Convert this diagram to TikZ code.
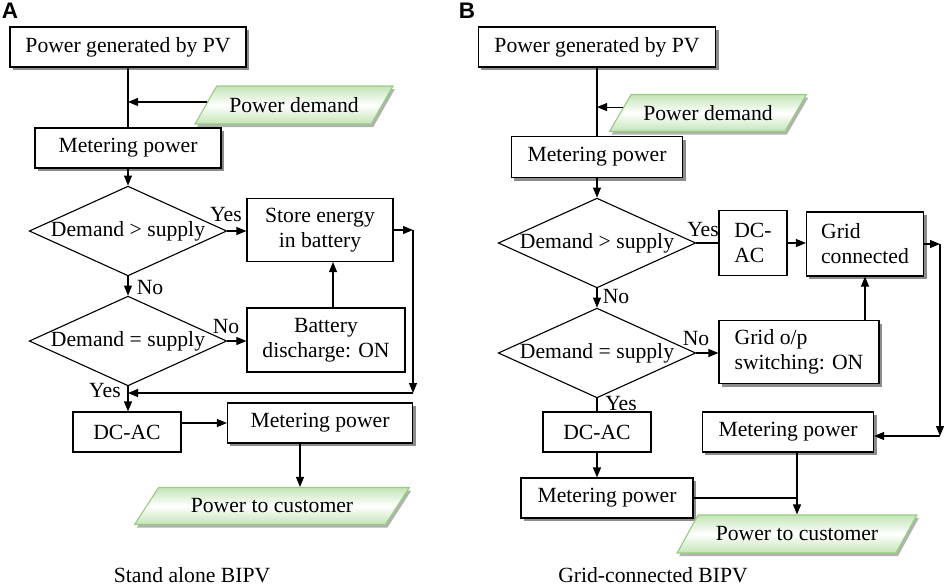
\documentclass[tikz,border=0pt]{standalone}
\usepackage{fontspec}
\setmainfont{Liberation Serif}
\newfontfamily\panelfont{Liberation Sans}
\usetikzlibrary{positioning,arrows.meta,shapes.geometric,shadows}
\definecolor{iogreen}{RGB}{196,228,182}
\definecolor{ioedge}{RGB}{150,205,130}
\newcommand{\flowfont}{\fontsize{15.4}{17.8}\selectfont}

\begin{document}
\begin{tikzpicture}[x=0.025cm, y=-0.025cm, line width=0.8pt,
    box/.style={draw, fill=white, inner sep=0pt, font=\flowfont, align=center},
    sbox/.style={box, drop shadow={shadow xshift=0.075cm, shadow yshift=-0.075cm, fill=black!45, opacity=1}},
    decision/.style={diamond, draw, inner sep=0pt, aspect=2.2,
        minimum width=4.925cm, minimum height=2.225cm, font=\flowfont},
    io/.style={trapezium, trapezium left angle=40, trapezium right angle=140,
        trapezium stretches=true, draw=ioedge, top color=iogreen, bottom color=iogreen,
        middle color=white, inner sep=0pt, font=\flowfont,
        drop shadow={shadow xshift=0.05cm, shadow yshift=-0.075cm, fill=black!30, opacity=1}},
    lbl/.style={inner sep=0pt, font=\flowfont},
    panel/.style={inner sep=0pt, font=\panelfont\bfseries\fontsize{16}{18}\selectfont},
    arr/.style={-{Triangle[length=2.5mm,width=2mm]}},
    ]
    \useasboundingbox (0,0) rectangle (948,587);

    \node[panel] (labA) at (10,11) {A};
    \node[panel] (labB) at (467,11) {B};

    % stand alone
    \node[sbox, minimum width=5.9cm, minimum height=1cm] (pvA) at (128,47) {Power generated by PV};
    \node[io, minimum width=4.95cm, minimum height=0.95cm] (demandA) at (294,105) {Power demand};
    \node[sbox, minimum width=4.65cm, minimum height=1cm] (meterA) at (128,148) {Metering power};
    \node[decision] (decA1) at (128,231) {Demand > supply};
    \node[box, minimum width=3.65cm, minimum height=1.575cm] (storeA) at (320,230) {Store energy\\in battery};
    \node[decision] (decA2) at (128,341) {Demand = supply};
    \node[box, minimum width=3.95cm, minimum height=1.6cm] (battA) at (326,340) {Battery\\discharge: ON};
    \node[box, minimum width=2.7cm, minimum height=1cm] (dcacA) at (127,432) {DC-AC};
    \node[sbox, minimum width=4.625cm, minimum height=1cm] (meterA2) at (320,423) {Metering power};
    \node[io, minimum width=6.875cm, minimum height=0.925cm] (custA) at (272,506) {Power to customer};
    \node[lbl] (yesA1) at (226,215) {Yes};
    \node[lbl] (noA1) at (150,288) {No};
    \node[lbl] (noA2) at (226,327) {No};
    \node[lbl] (yesA2) at (105,391) {Yes};
    \node[lbl] (capA) at (192,575) {Stand alone BIPV};
    \coordinate (loopA1) at (413,230);
    \coordinate (loopA2) at (413,393);

    \draw (pvA) -- (meterA);
    \draw[arr] (demandA.178) -- (demandA.178 -| pvA.south);
    \draw[arr] (meterA) -- (decA1);
    \draw[arr] (decA1.east) -- (decA1.east -| storeA.west);
    \draw[arr] (decA1) -- (decA2);
    \draw[arr] (decA2.east) -- (decA2.east -| battA.west);
    \draw[arr] ([xshift=0.175cm]battA.north) -- ([xshift=0.175cm]battA.north |- storeA.south);
    \draw[arr] (storeA.east) -- (loopA1);
    \draw[arr] (loopA1) -- (loopA2);
    \draw[arr] (loopA2) -- (loopA2 -| decA2.south);
    \draw[arr] (decA2.south) -- (decA2.south |- dcacA.north);
    \draw[arr] (dcacA.east |- meterA2.west) -- (meterA2.west);
    \draw[arr] ([xshift=-0.5cm]meterA2.south) -- ([xshift=-0.5cm]meterA2.south |- custA.north);

    % grid connected
    \node[sbox, minimum width=5.925cm, minimum height=1cm] (pvB) at (597,47) {Power generated by PV};
    \node[io, minimum width=4.925cm, minimum height=0.925cm] (demandB) at (708,113) {Power demand};
    \node[sbox, minimum width=4.275cm, minimum height=1.025cm] (meterB) at (597,157) {Metering power};
    \node[decision] (decB1) at (597,243) {Demand > supply};
    \node[box, minimum width=1.7cm, minimum height=1.625cm, align=left] (dcB1) at (753,243) {DC-\\AC};
    \node[sbox, minimum width=2.925cm, minimum height=1.6cm, align=left] (gridB) at (865,244) {Grid\\connected};
    \node[decision] (decB2) at (597,353) {Demand = supply};
    \node[sbox, minimum width=4cm, minimum height=1.575cm, align=left] (swB) at (799,352) {Grid o/p\\switching: ON};
    \node[box, minimum width=2.7cm, minimum height=1cm] (dcB2) at (597,432) {DC-AC};
    \node[sbox, minimum width=4.3cm, minimum height=1cm] (meterB2) at (607,498) {Metering power};
    \node[sbox, minimum width=4.275cm, minimum height=1cm] (meterB3) at (788,432) {Metering power};
    \node[io, minimum width=6cm, minimum height=0.95cm] (custB) at (797,534) {Power to customer};
    \node[lbl] (yesB1) at (703,230) {Yes};
    \node[lbl] (noB1) at (616,297) {No};
    \node[lbl] (noB2) at (696,339) {No};
    \node[lbl] (yesB2) at (621,404) {Yes};
    \node[lbl] (capB) at (653,575) {Grid-connected BIPV};
    \coordinate (loopB1) at (940,244);
    \coordinate (loopB2) at (940,436);

    \draw (pvB) -- (meterB);
    \draw[arr] (demandB.176) -- (demandB.176 -| pvB.south);
    \draw[arr] (meterB) -- (decB1);
    \draw (decB1.east) -- (dcB1.west);
    \draw[arr] (dcB1.east) -- (dcB1.east -| gridB.west);
    \draw[arr] (gridB.east) -- (loopB1);
    \draw[arr] (loopB1) -- (loopB2);
    \draw[arr] (loopB2) -- (loopB2 -| meterB3.east);
    \draw[arr] (decB1) -- (decB2);
    \draw[arr] (decB2.east) -- (decB2.east -| swB.west);
    \draw[arr] (gridB.south |- swB.north) -- (gridB.south);
    \draw (decB2.south) -- (dcB2.north);
    \draw[arr] (dcB2.south) -- (dcB2.south |- meterB2.north);
    \draw (meterB2.east) -- (meterB2.east -| custB.north);
    \draw[arr] (custB.north |- meterB3.south) -- (custB.north);
\end{tikzpicture}
\end{document}
